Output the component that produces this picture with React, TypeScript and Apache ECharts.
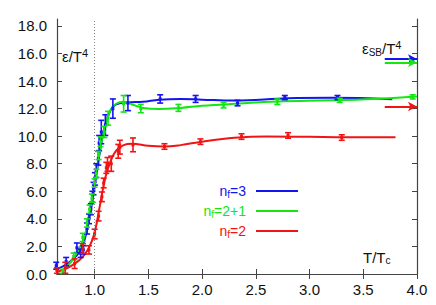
import React, { useEffect, useRef } from "react";
import * as echarts from "echarts";

const BLUE = "#1414f0";
const GREEN = "#14e614";
const RED = "#f01414";
const AXIS = "#444444";
const FONT = "'Liberation Sans', Arial, Helvetica, sans-serif";

const xTicks = [1.0, 1.5, 2.0, 2.5, 3.0, 3.5, 4.0];
const yTicks = [0, 2, 4, 6, 8, 10, 12, 14, 16, 18];

// [T/Tc, eps/T^4, error]
const nf3Points = [
  [0.643, 0.6, 0.25], [0.735, 0.9, 0.3], [0.835, 1.9, 0.35], [0.87, 1.5, 0.3],
  [0.895, 1.75, 0.3], [0.93, 3.3, 0.4], [0.948, 4.0, 0.35], [0.965, 4.7, 0.4],
  [0.98, 5.6, 0.4], [0.99, 6.2, 0.45], [1.003, 6.9, 0.45], [1.015, 7.5, 0.5],
  [1.035, 8.4, 0.5], [1.042, 9.5, 0.55], [1.062, 10.3, 0.85], [1.1, 10.8, 0.75],
  [1.17, 12.0, 0.7], [1.31, 12.4, 0.55], [1.61, 12.7, 0.3], [1.94, 12.7, 0.25],
  [2.33, 12.4, 0.2], [2.77, 12.8, 0.15], [3.26, 12.8, 0.15],
];
const nf21Points = [
  [0.705, 0.2, 0.15], [0.805, 1.27, 0.25], [0.89, 2.65, 0.3], [0.928, 3.7, 0.3],
  [0.953, 4.7, 0.3], [0.975, 5.5, 0.3], [1.0, 6.6, 0.3], [1.016, 7.3, 0.3],
  [1.037, 8.6, 0.3], [1.055, 9.6, 0.35], [1.09, 10.3, 0.4], [1.125, 11.3, 0.5],
  [1.27, 12.35, 0.6], [1.43, 12.0, 0.3], [1.78, 12.05, 0.25], [2.2, 12.25, 0.2],
  [2.7, 12.5, 0.2], [3.28, 12.6, 0.15], [3.96, 12.85, 0.15],
];
const nf2Points = [
  [0.649, 0.25, 0.2], [0.727, 0.45, 0.4], [0.814, 0.75, 0.35], [0.891, 1.85, 0.35],
  [0.947, 1.75, 0.3], [1.0, 2.9, 0.35], [1.037, 4.2, 0.35], [1.068, 5.6, 0.35],
  [1.084, 6.6, 0.35], [1.109, 7.7, 0.4], [1.12, 7.95, 0.5], [1.155, 8.0, 0.55],
  [1.22, 8.9, 0.5], [1.235, 9.2, 0.5], [1.357, 9.37, 0.5], [1.65, 9.25, 0.2],
  [1.985, 9.6, 0.2], [2.367, 9.97, 0.2], [2.8, 10.05, 0.2], [3.3, 9.9, 0.2],
];

// fitted curves
const nf3Curve = [
  [0.645, 0.35], [0.75, 0.75], [0.85, 1.5], [0.9, 2.3], [0.95, 4.0], [1.0, 6.3],
  [1.05, 8.9], [1.1, 10.9], [1.15, 11.9], [1.2, 12.3], [1.3, 12.45], [1.45, 12.5],
  [1.6, 12.65], [1.8, 12.7], [2.0, 12.65], [2.3, 12.58], [2.8, 12.75], [3.2, 12.78],
  [3.77, 12.68],
];
const nf21Curve = [
  [0.7, 0.2], [0.8, 1.1], [0.9, 2.6], [0.95, 4.4], [1.0, 6.6], [1.05, 9.0],
  [1.1, 10.8], [1.15, 11.9], [1.2, 12.35], [1.27, 12.5], [1.35, 12.3], [1.45, 12.05],
  [1.6, 11.97], [1.8, 12.05], [2.0, 12.2], [2.3, 12.35], [2.7, 12.52], [3.2, 12.6],
  [3.6, 12.7], [4.0, 12.87],
];
const nf2Curve = [
  [0.645, 0.15], [0.75, 0.45], [0.85, 0.95], [0.9, 1.35], [0.95, 1.95], [1.0, 3.0],
  [1.05, 5.0], [1.1, 7.0], [1.15, 8.2], [1.2, 8.95], [1.27, 9.35], [1.35, 9.45],
  [1.5, 9.3], [1.65, 9.25], [1.8, 9.35], [2.0, 9.6], [2.3, 9.88], [2.6, 9.98],
  [3.0, 9.95], [3.5, 9.92], [3.8, 9.92],
];

// Stefan-Boltzmann limits (arrows on the right)
const sbNf3 = 15.6;
const sbNf21 = 15.35;
const sbNf2 = 12.15;
const sbStart = 3.7;
const xMin = 0.65;
const xMax = 4.0;
const yMin = 0;
const yMax = 18.5;

const errorBars = (color: string) => (params: any, api: any) => {
  const x = api.value(0);
  const y = api.value(1);
  const e = api.value(2);
  const top = api.coord([x, y + e]);
  const bot = api.coord([x, y - e]);
  const c = api.coord([x, y]);
  const hw = 3;
  const st = { stroke: color, lineWidth: 1.6 };
  return {
    type: "group",
    children: [
      { type: "line", shape: { x1: top[0], y1: top[1], x2: bot[0], y2: bot[1] }, style: st },
      { type: "line", shape: { x1: top[0] - hw, y1: top[1], x2: top[0] + hw, y2: top[1] }, style: st },
      { type: "line", shape: { x1: bot[0] - hw, y1: bot[1], x2: bot[0] + hw, y2: bot[1] }, style: st },
      { type: "rect", shape: { x: c[0] - 1.5, y: c[1] - 1.5, width: 3, height: 3 }, style: { fill: color } },
    ],
  };
};

const arrowLine = (v: number, color: string) => ({
  silent: true,
  symbol: ["none", "arrow"],
  symbolSize: [7, 9],
  label: { show: false },
  lineStyle: { color, width: 2, type: "solid" },
  data: [[{ coord: [sbStart, v] }, { coord: [xMax, v] }]],
});

const curve = (name: string, data: number[][], color: string, sb: number) => ({
  name,
  type: "line",
  data,
  smooth: 0.4,
  symbol: "none",
  lineStyle: { color, width: 2 },
  z: 3,
  markLine: arrowLine(sb, color),
});

const labelRich = {
  a: { fontSize: 15, fontFamily: FONT },
  s: { fontSize: 10, fontFamily: FONT, verticalAlign: "bottom", padding: [7, 0, 0, 0] },
  p: { fontSize: 11, fontFamily: FONT, verticalAlign: "top", padding: [0, 0, 7, 0] },
};

export default function App() {
  const ref = useRef<HTMLDivElement>(null);
  useEffect(() => {
    if (!ref.current) return;
    const chart = echarts.init(ref.current, undefined, { renderer: "svg" });
    const legendText = (t: string, y: number, color: string, x: number) => ({
      type: "text",
      x,
      y,
      style: {
        text: t,
        align: "right",
        verticalAlign: "middle",
        fill: color,
        rich: {
          a: { fontSize: 14, fontFamily: FONT, fill: color },
          s: { fontSize: 10, fontFamily: FONT, fill: color, verticalAlign: "bottom", padding: [7, 0, 0, 0] },
        },
      },
    });
    const legendLine = (y: number, color: string) => ({
      type: "line",
      shape: { x1: 256, y1: y, x2: 298, y2: y },
      style: { stroke: color, lineWidth: 2 },
    });
    chart.setOption({
      animation: false,
      backgroundColor: "#ffffff",
      textStyle: { fontFamily: FONT },
      grid: { left: 57, right: 19, top: 19, bottom: 31 },
      xAxis: [
        {
          type: "value",
          min: xMin,
          max: xMax,
          axisLine: { lineStyle: { color: AXIS, width: 1.2 } },
          splitLine: { show: false },
          axisTick: { inside: true, length: 5, customValues: xTicks, lineStyle: { color: AXIS } },
          axisLabel: {
            customValues: xTicks,
            formatter: (v: number) => v.toFixed(1),
            color: "#111",
            fontSize: 15,
            fontFamily: FONT,
            margin: 8,
          },
        },
        {
          type: "value",
          position: "top",
          min: xMin,
          max: xMax,
          axisLine: { show: true, lineStyle: { color: AXIS, width: 1.2 } },
          splitLine: { show: false },
          axisTick: { inside: true, length: 5, customValues: xTicks, lineStyle: { color: AXIS } },
          axisLabel: { show: false },
        },
      ],
      yAxis: [
        {
          type: "value",
          min: yMin,
          max: yMax,
          axisLine: { show: true, lineStyle: { color: AXIS, width: 1.2 } },
          splitLine: { show: false },
          axisTick: { show: true, inside: true, length: 5, customValues: yTicks, lineStyle: { color: AXIS } },
          axisLabel: {
            customValues: yTicks,
            formatter: (v: number) => v.toFixed(1),
            color: "#111",
            fontSize: 15,
            fontFamily: FONT,
            margin: 10,
          },
        },
        {
          type: "value",
          position: "right",
          min: yMin,
          max: yMax,
          axisLine: { show: true, lineStyle: { color: AXIS, width: 1.2 } },
          splitLine: { show: false },
          axisTick: { show: true, inside: true, length: 5, customValues: yTicks, lineStyle: { color: AXIS } },
          axisLabel: { show: false },
        },
      ],
      series: [
        {
          name: "tc",
          type: "line",
          data: [],
          markLine: {
            silent: true,
            symbol: ["none", "none"],
            label: { show: false },
            lineStyle: { color: "#888", width: 1, type: [1, 2] },
            data: [{ xAxis: 1.0 }],
          },
        },
        curve("nf=3", nf3Curve, BLUE, sbNf3),
        curve("nf=2+1", nf21Curve, GREEN, sbNf21),
        curve("nf=2", nf2Curve, RED, sbNf2),
        { type: "custom", renderItem: errorBars(BLUE), data: nf3Points, encode: { x: 0, y: 1 }, z: 4 },
        { type: "custom", renderItem: errorBars(GREEN), data: nf21Points, encode: { x: 0, y: 1 }, z: 4 },
        { type: "custom", renderItem: errorBars(RED), data: nf2Points, encode: { x: 0, y: 1 }, z: 4 },
      ],
      graphic: [
        {
          type: "text",
          x: 62,
          y: 56,
          style: {
            text: "{a|ε/T}{p|4}",
            verticalAlign: "middle",
            fill: "#111",
            rich: labelRich,
          },
        },
        {
          type: "text",
          x: 362,
          y: 48,
          style: {
            text: "{a|ε}{s|SB}{a|/T}{p|4}",
            verticalAlign: "middle",
            fill: "#111",
            rich: labelRich,
          },
        },
        {
          type: "text",
          x: 363,
          y: 257,
          style: {
            text: "{a|T/T}{s|c}",
            verticalAlign: "middle",
            fill: "#111",
            rich: labelRich,
          },
        },
        legendText("{a|n}{s|f}{a|=3}", 191, BLUE, 246),
        legendText("{a|n}{s|f}{a|=2+1}", 211, GREEN, 246),
        legendText("{a|n}{s|f}{a|=2}", 231, RED, 246),
        legendLine(191, BLUE),
        legendLine(211, GREEN),
        legendLine(231, RED),
      ],
    });
    return () => chart.dispose();
  }, []);
  return (
    <div
      ref={ref}
      style={{ position: "fixed", left: 0, top: 0, width: 436, height: 305, background: "#fff" }}
    />
  );
}
